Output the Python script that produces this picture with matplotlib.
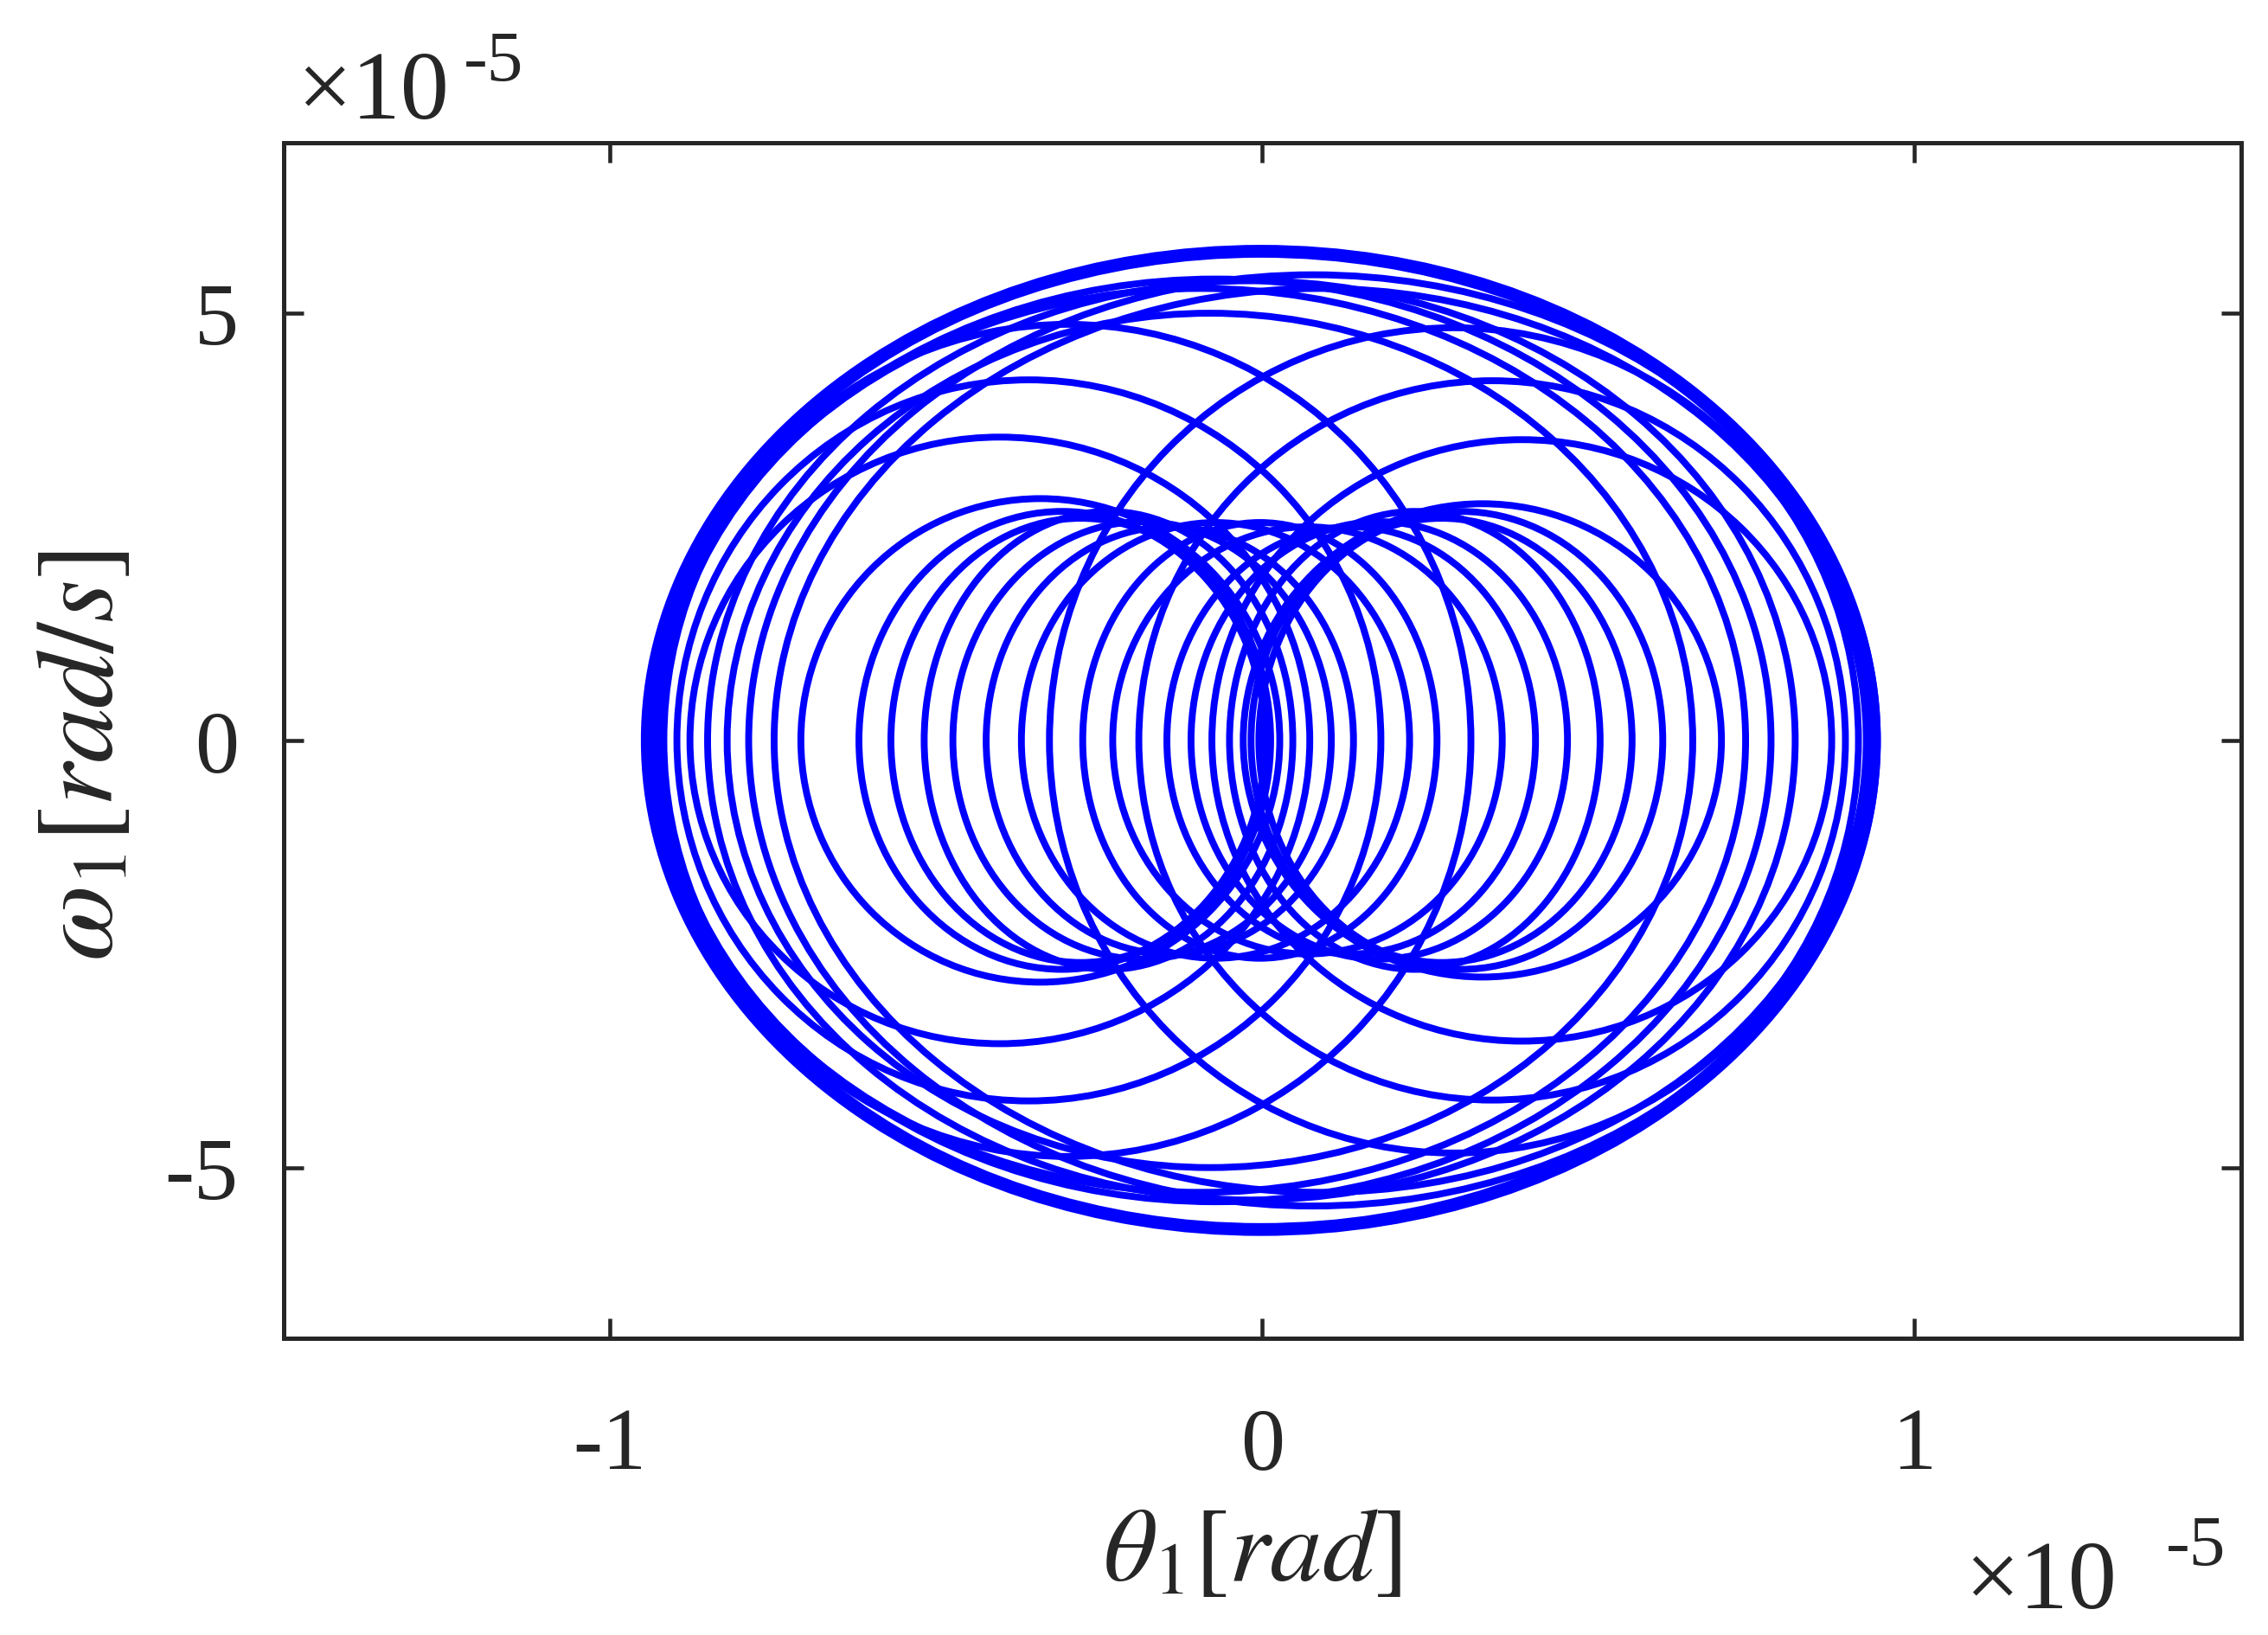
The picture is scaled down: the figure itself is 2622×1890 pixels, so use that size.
import matplotlib
matplotlib.use("Agg")
import matplotlib.pyplot as plt
from matplotlib.patches import Ellipse

# ----------------------------
# Data (units of 1e-5)
# each loop of the trajectory: left/right crossing of omega=0 and peak omega
# ----------------------------
loop_left = [
    # outer loops
    -0.947, -0.942, -0.936, -0.923, -0.850, -0.820, -0.787,
    # shifted large loops (left / right pairs)
    -0.930, -0.748, -0.917, -0.326, -0.897, -0.189, -0.877, -0.077, -0.707, -0.029,
    # small loops through the centre
    -0.618, -0.569, -0.518, -0.474, -0.423, -0.369, -0.275,
    -0.229, -0.146, -0.109, -0.050, -0.017, -0.005,
]
loop_right = [
    0.943, 0.938, 0.932, 0.780, 0.817, 0.660, 0.943,
    0.741, 0.926, 0.320, 0.914, 0.182, 0.894, 0.073, 0.873, 0.027, 0.704,
    0.005, 0.013, 0.047, 0.106, 0.140, 0.226, 0.268,
    0.368, 0.419, 0.468, 0.518, 0.567, 0.614,
]
loop_top = [
    5.76, 5.73, 5.69, 5.40, 5.38, 5.00, 5.45,
    5.29, 5.29, 4.87, 4.83, 4.22, 4.21, 3.55, 3.52, 2.83, 2.77,
    2.68, 2.60, 2.68, 2.56, 2.50, 2.55, 2.55,
    2.50, 2.50, 2.56, 2.68, 2.60, 2.68,
]

x_ticks = [-1, 0, 1]
y_ticks = [-5, 0, 5]

# ----------------------------
# Style
# ----------------------------
plt.rcParams.update({
    "font.family": "Liberation Serif",
    "mathtext.fontset": "stix",
    "axes.unicode_minus": False,
})
INK = "#262626"

fig = plt.figure(figsize=(8.74, 6.303), dpi=300)
ax = fig.add_axes([0.125, 0.1813, 0.863, 0.7312])

for L, R, H in zip(loop_left, loop_right, loop_top):
    ax.add_patch(Ellipse(((L + R) / 2, 0), width=R - L, height=2 * H,
                         fill=False, edgecolor="#0000ff", linewidth=1.9))

ax.set_xlim(-1.5, 1.5)
ax.set_ylim(-7, 7)
ax.set_xticks(x_ticks, [str(t) for t in x_ticks])
ax.set_yticks(y_ticks, [str(t) for t in y_ticks])
ax.tick_params(direction="in", top=True, right=True, length=5.5, width=1.1,
               colors=INK, labelsize=24.5)
ax.tick_params(axis="x", pad=19)
ax.tick_params(axis="y", pad=12.5)
for s in ax.spines.values():
    s.set_linewidth(1.2)
    s.set_color(INK)

# axis labels
fig.text(0.552, 0.049, r"$\theta_1[rad]$", fontsize=29, color=INK,
         ha="center", va="center")
fig.text(0.038, 0.5376, r"$\omega_1[rad/s]$", fontsize=30.5, color=INK,
         ha="center", va="center", rotation=90)

# exponent labels
fig.text(0.1307, 0.9275, "\u00d710", fontsize=27, color=INK, ha="left", va="baseline")
fig.text(0.2045, 0.951, "-5", fontsize=20, color=INK, ha="left", va="baseline")
fig.text(0.866, 0.0168, "\u00d710", fontsize=27, color=INK, ha="left", va="baseline")
fig.text(0.955, 0.0433, "-5", fontsize=20, color=INK, ha="left", va="baseline")

fig.savefig("out.png", dpi=300)
